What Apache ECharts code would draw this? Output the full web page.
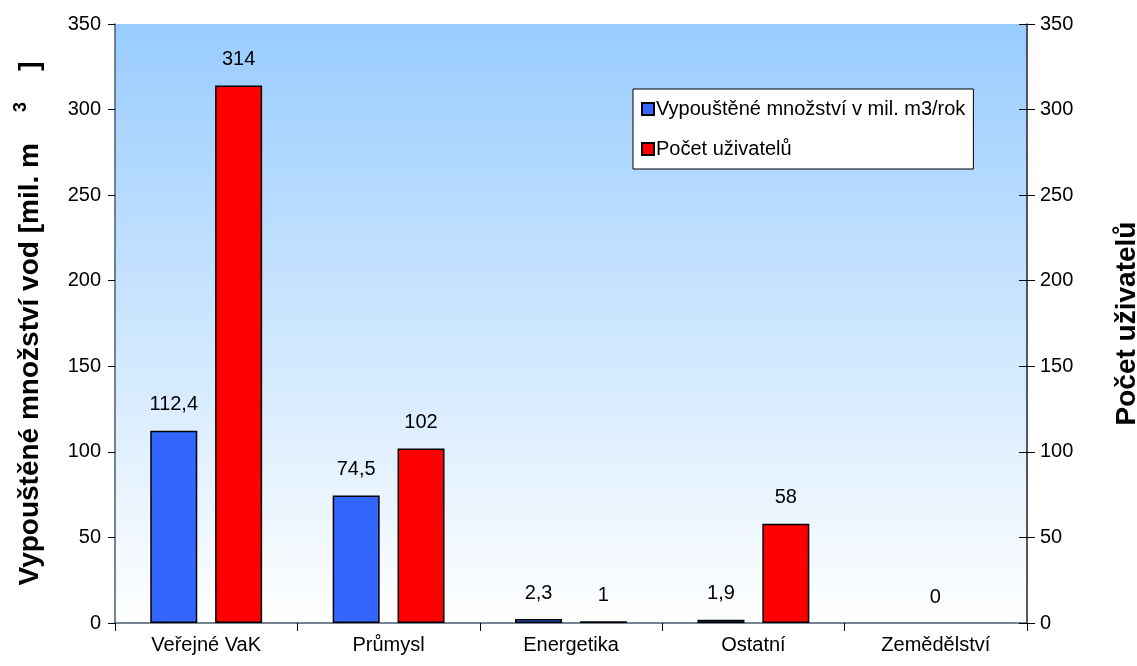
<!DOCTYPE html>
<html>
<head>
<meta charset="utf-8">
<script src="https://cdn.jsdelivr.net/npm/echarts@6/dist/echarts.min.js"></script>
<style>
  html, body { margin: 0; padding: 0; background: #fff; }
  #chart { width: 1137px; height: 666px; }
</style>
</head>
<body>
<div id="chart"></div>
<script>
  // kategorie a hodnoty
  var categories = ['Veřejné VaK', 'Průmysl', 'Energetika', 'Ostatní', 'Zemědělství']
  var mnozstvi = [112.4, 74.5, 2.3, 1.9, null]
  var uzivatele = [314, 102, 1, 58, 0]

  var fontFam = 'Liberation Sans, Arial, sans-serif'
  var carka = function (p) { return String(p.value).replace('.', ',') }

  var chart = echarts.init(document.getElementById('chart'))

  var redData = uzivatele.map(function (v, i) {
    // popisek nuly u posledni kategorie je v originale uprostred, bez sloupce
    if (i === uzivatele.length - 1) {
      return { value: v, itemStyle: { borderWidth: 0 }, label: { offset: [-33, 0] } }
    }
    return v
  })

  chart.setOption({
    animation: false,
    textStyle: { fontFamily: fontFam },
    grid: {
      left: 115, right: 110, top: 24, bottom: 43,
      containLabel: false,
      outerBoundsMode: 'none',
      show: true,
      borderWidth: 0,
      backgroundColor: new echarts.graphic.LinearGradient(0, 0, 0, 1, [
        { offset: 0, color: '#99CCFF' },
        { offset: 1, color: '#FFFFFF' }
      ])
    },
    legend: {
      orient: 'vertical',
      left: 633, top: 89,
      padding: [10, 8, 10, 8],
      itemGap: 20,
      itemWidth: 12, itemHeight: 12,
      icon: 'rect',
      backgroundColor: '#fff',
      borderColor: '#000',
      borderWidth: 1,
      borderRadius: 0,
      textStyle: { fontSize: 20, color: '#000', fontFamily: fontFam, padding: [0, 0, 0, -3] },
      data: ['Vypouštěné množství v mil. m3/rok', 'Počet uživatelů']
    },
    xAxis: {
      type: 'category',
      data: categories,
      axisLine: { lineStyle: { color: '#4A5B70', width: 1.5 } },
      axisTick: { show: true, length: 8, lineStyle: { color: '#000' } },
      axisLabel: { fontSize: 20, color: '#000', margin: 12 },
      splitLine: { show: false }
    },
    yAxis: [
      {
        type: 'value', min: 0, max: 350, interval: 50, position: 'left',
        name: 'Vypouštěné množství vod [mil. m    {sup|3}    ]',
        nameLocation: 'middle', nameRotate: 90, nameGap: 67,
        nameTextStyle: {
          fontSize: 28, fontWeight: 'bold', color: '#000',
          rich: { sup: { fontSize: 18, fontWeight: 'bold', color: '#000', padding: [0, 0, 18, 0] } }
        },
        axisLine: { show: true, lineStyle: { color: '#4A5B70', width: 1.5 } },
        axisTick: { show: true, length: 7, lineStyle: { color: '#000' } },
        axisLabel: { fontSize: 20, color: '#000', margin: 14 },
        splitLine: { show: false }
      },
      {
        type: 'value', min: 0, max: 350, interval: 50, position: 'right',
        name: 'Počet uživatelů',
        nameLocation: 'middle', nameRotate: 90, nameGap: 86,
        nameTextStyle: { fontSize: 28, fontWeight: 'bold', color: '#000' },
        axisLine: { show: true, lineStyle: { color: '#222', width: 1.5 } },
        axisTick: { show: true, length: 8, lineStyle: { color: '#000' } },
        axisLabel: { fontSize: 20, color: '#000', margin: 13 },
        splitLine: { show: false }
      },
      {
        // vnitrni cast ticku prave osy
        type: 'value', min: 0, max: 350, interval: 50, position: 'right',
        axisLine: { show: false },
        axisTick: { show: true, inside: true, length: 8, lineStyle: { color: '#000' } },
        axisLabel: { show: false },
        splitLine: { show: false }
      }
    ],
    series: [
      {
        name: 'Vypouštěné množství v mil. m3/rok',
        type: 'bar',
        yAxisIndex: 0,
        barWidth: 47,
        barGap: '38%',
        data: mnozstvi,
        itemStyle: { color: '#3366FF', borderColor: '#000', borderWidth: 1.5 },
        label: { show: true, position: 'top', distance: 16, fontSize: 20, color: '#000', formatter: carka }
      },
      {
        name: 'Počet uživatelů',
        type: 'bar',
        yAxisIndex: 1,
        barWidth: 47,
        barGap: '38%',
        data: redData,
        itemStyle: { color: '#FF0000', borderColor: '#000', borderWidth: 1.5 },
        label: { show: true, position: 'top', distance: 16, fontSize: 20, color: '#000', formatter: carka }
      }
    ]
  })
</script>
</body>
</html>
